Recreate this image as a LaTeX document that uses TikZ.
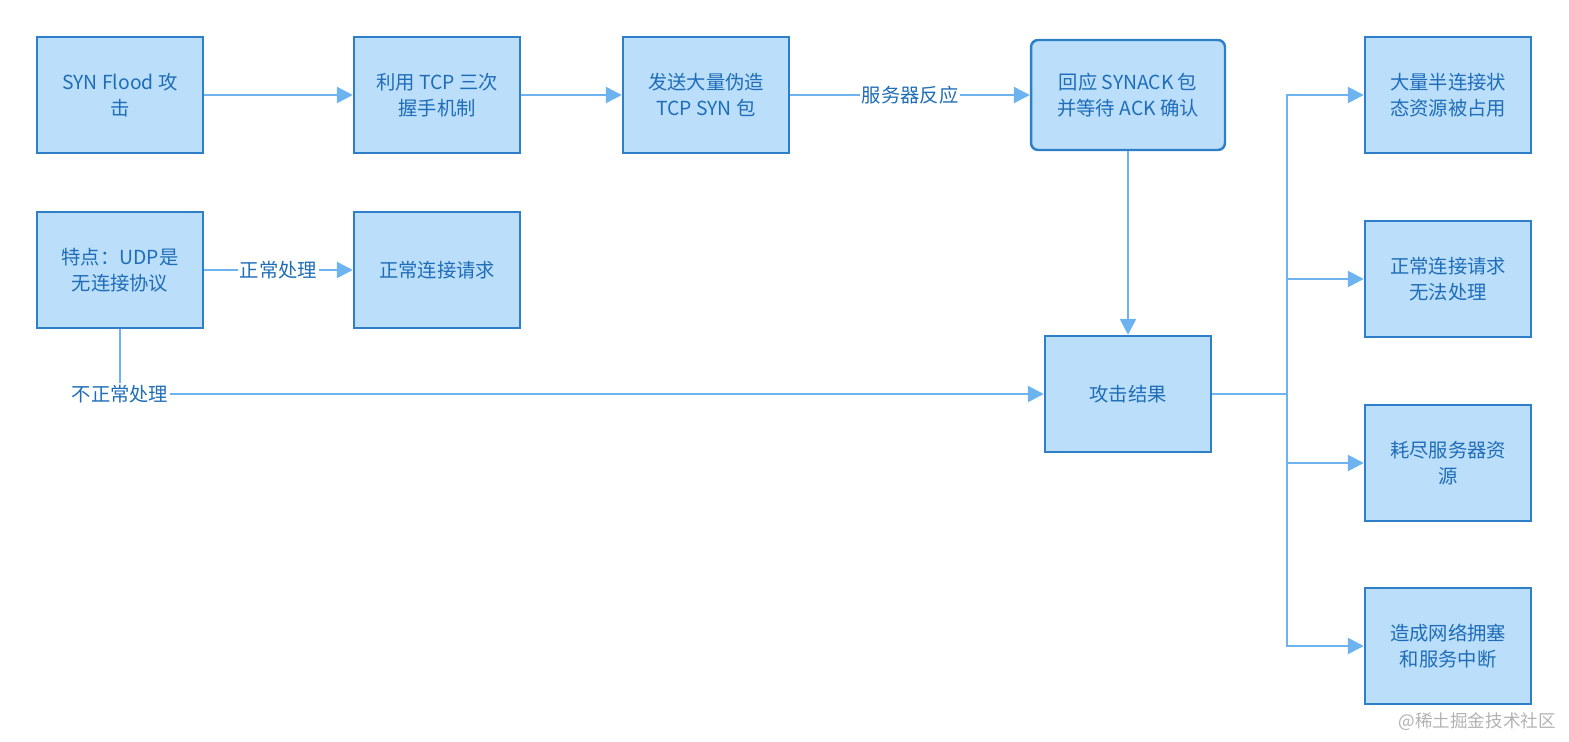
\documentclass[tikz,border=0pt]{standalone}
\usepackage{fontspec}
\setmainfont{Noto Sans CJK SC}
\usetikzlibrary{arrows.meta}
\definecolor{bfill}{HTML}{BBDEFA}
\definecolor{bdraw}{HTML}{2F7FC8}
\definecolor{arr}{HTML}{6DB3F0}
\definecolor{txt}{HTML}{1F6DB8}
\begin{document}
\begin{tikzpicture}[x=0.02cm,y=-0.02cm,
  box/.style={draw=bdraw,fill=bfill,line width=1.4pt,minimum width=3.32cm,minimum height=2.32cm,align=center,text=txt,font=\fontsize{11}{15}\selectfont,inner sep=2pt},
  conn/.style={draw=arr,line width=1.4pt,-{Triangle[length=9pt,width=9pt]}},
  lab/.style={fill=white,text=txt,font=\fontsize{11}{13}\selectfont,inner sep=1pt}]
\useasboundingbox (0,0) rectangle (1569,741);
\node[box] (A) at (120,95) {SYN Flood 攻\\击};
\node[box] (B) at (437,95) {利用 TCP 三次\\握手机制};
\node[box] (C) at (706,95) {发送大量伪造\\TCP SYN 包};
\node[box,rounded corners=4pt,minimum width=3.88cm,minimum height=2.2cm] (D) at (1128,95) {回应 SYNACK 包\\并等待 ACK 确认};
\node[box] (E) at (120,270) {特点：UDP是\\无连接协议};
\node[box] (F) at (437,270) {正常连接请求};
\node[box] (G) at (1128,394) {攻击结果};
\node[box] (R1) at (1448,95) {大量半连接状\\态资源被占用};
\node[box] (R2) at (1448,279) {正常连接请求\\无法处理};
\node[box] (R3) at (1448,463) {耗尽服务器资\\源};
\node[box] (R4) at (1448,646) {造成网络拥塞\\和服务中断};
\draw[conn] (A) -- (B);
\draw[conn] (B) -- (C);
\draw[conn] (C) -- node[lab]{服务器反应} (D);
\draw[conn] (D) -- (G);
\draw[conn] (E) -- node[lab]{正常处理} (F);
\draw[conn] (E.south) |- node[lab,pos=0.5]{不正常处理} (G.west);
\coordinate (J) at (1287,394);
\draw[conn] (G.east) -- (J) |- (R1.west);
\draw[conn] (J) |- (R2.west);
\draw[conn] (J) |- (R3.west);
\draw[conn] (J) |- (R4.west);
\node[text=black!30,font=\fontsize{10}{12}\selectfont,anchor=east] (W) at (1562,722) {@稀土掘金技术社区};
\end{tikzpicture}
\end{document}
